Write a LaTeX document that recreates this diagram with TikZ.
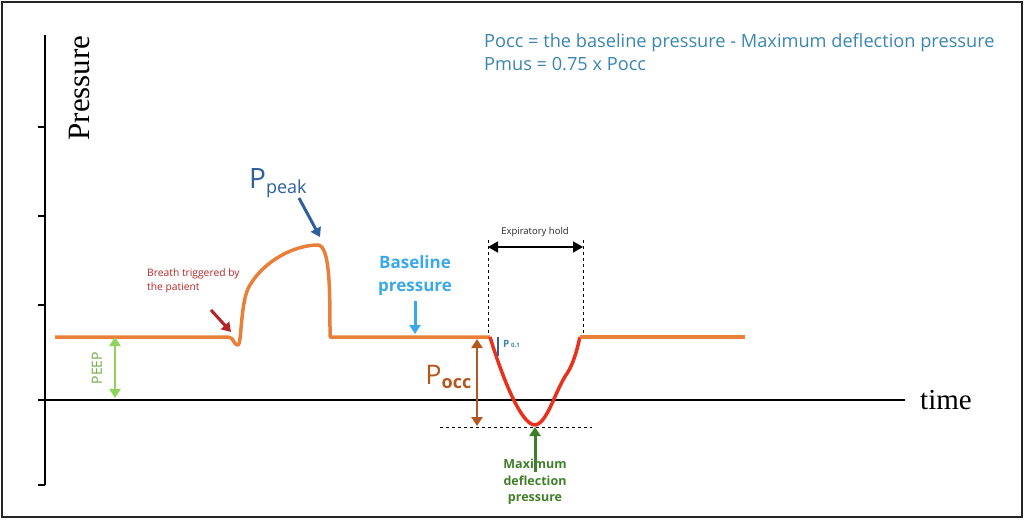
\documentclass[tikz,border=0pt]{standalone}
\usepackage{fontspec}
\setmainfont{Liberation Serif}
\newfontfamily\sans{Open Sans}
\usetikzlibrary{arrows.meta}
\definecolor{orng}{HTML}{E8803A}
\definecolor{redc}{HTML}{E8321E}
\definecolor{grn}{HTML}{8FD45A}
\definecolor{dgrn}{HTML}{3F7F2A}
\definecolor{brn}{HTML}{B5581E}
\definecolor{lblue}{HTML}{3BA8EA}
\definecolor{dblue}{HTML}{2E5F9E}
\definecolor{tblue}{HTML}{3A86B0}
\definecolor{dred}{HTML}{B52424}
\tikzset{lbl/.style={font=\sans, inner sep=0pt},
  fat/.style={line width=3pt,-{Triangle[length=9pt,width=11pt]}},
  fatboth/.style={line width=2.8pt,{Triangle[length=9pt,width=11pt]}-{Triangle[length=9pt,width=11pt]}}}
\begin{document}
\begin{tikzpicture}[x=1pt,y=-1pt]
\useasboundingbox (0,0) rectangle (1024,519);
\draw[black!85,line width=2pt] (2,2) rectangle (1022,517);
% axes
\draw[line width=1.6pt] (45,35) -- (45,485);
\foreach \yy in {127,216,305,485} \draw[line width=1.6pt] (38,\yy) -- (45,\yy);
\draw[line width=2.6pt] (38,400) -- (905,400);
\node[font=\fontsize{31}{31}\selectfont, rotate=90, inner sep=0pt] (py) at (80,88) {Pressure};
\node[font=\fontsize{29}{29}\selectfont, inner sep=0pt] (tm) at (946,400) {time};
% curves
\draw[orng,line width=3.5pt,line join=round] (55,337) -- (228,337) .. controls (234,337) and (234,346) .. (238,345)
  .. controls (242,344) and (240,300) .. (250,285) .. controls (265,260) and (295,245) .. (318,245)
  .. controls (330,246) and (330,290) .. (330,337) -- (490,337);
\draw[redc,line width=3.5pt,line join=round] (490,337) .. controls (500,370) and (520,425) .. (535,425)
  .. controls (548,423) and (555,390) .. (568,372) .. controls (575,360) and (578,345) .. (580,337);
\draw[orng,line width=3.5pt] (580,337) -- (745,337);
% arrows
\coordinate (pa) at (115,337); \coordinate (pb) at (115,398);
\draw[grn,fatboth] (pa) -- (pb);
\node[lbl,grn!80!black,rotate=90,font=\sans\fontsize{14}{14}\selectfont] (peep) at (97,368) {PEEP};
\coordinate (oa) at (477,339); \coordinate (ob) at (477,426);
\draw[brn,fatboth] (oa) -- (ob);
\node[lbl,brn,anchor=east] (pocc) at (472,377) {\fontsize{27}{27}\selectfont P\textsubscript{\fontsize{18}{18}\selectfont\bfseries occ}};
\draw[dashed,thick] (440,427) -- (592,427);
\draw[dashed,thick] (488,240) -- (488,334);
\draw[dashed,thick] (583,240) -- (583,334);
\coordinate (ea) at (488,247); \coordinate (eb) at (583,247);
\draw[line width=1.5pt,{Triangle[length=10pt,width=11pt]}-{Triangle[length=10pt,width=11pt]}] (ea) -- (eb);
\node[lbl,font=\sans\fontsize{9.5}{9.5}\selectfont,gray!30!black] (eh) at (535,232) {Expiratory hold};
\draw[dblue,line width=2.5pt] (498,337) -- (498,356);
\node[lbl,tblue,anchor=west,font=\sans\fontsize{10}{10}\selectfont\bfseries] (p01) at (503,344) {P\,\fontsize{6}{6}\selectfont 0.1};
\coordinate (ga) at (535,472); \coordinate (gb) at (535,427);
\draw[dgrn,fat] (ga) -- (gb);
\node[lbl,dgrn,align=center,font=\sans\fontsize{12.5}{16.5}\selectfont\bfseries,anchor=north] (mdp) at (535,459) {Maximum\\deflection\\pressure};
\node[lbl,lblue,align=center,font=\sans\fontsize{17}{23}\selectfont\bfseries] (bp) at (415,276) {Baseline\\pressure};
\coordinate (ba) at (415,301); \coordinate (bb) at (415,334);
\draw[lblue,fat] (ba) -- (bb);
\node[lbl,dblue,anchor=west] (pk) at (249,183) {\fontsize{28}{28}\selectfont P\textsubscript{\fontsize{18}{18}\selectfont peak}};
\coordinate (ka) at (299,198); \coordinate (kb) at (320,237);
\draw[dblue,fat] (ka) -- (kb);
\node[lbl,dred,align=left,anchor=north west,font=\sans\fontsize{10.3}{14.5}\selectfont] (bt) at (147,268) {Breath triggered by\\the patient};
\coordinate (ra) at (211,310); \coordinate (rb) at (231,332);
\draw[dred,fat] (ra) -- (rb);
\node[lbl,tblue,anchor=west,font=\sans\fontsize{18.2}{23}\selectfont,align=left] (eq) at (484,52) {Pocc = the baseline pressure - Maximum deflection pressure\\Pmus = 0.75 x Pocc};
\end{tikzpicture}
\end{document}
